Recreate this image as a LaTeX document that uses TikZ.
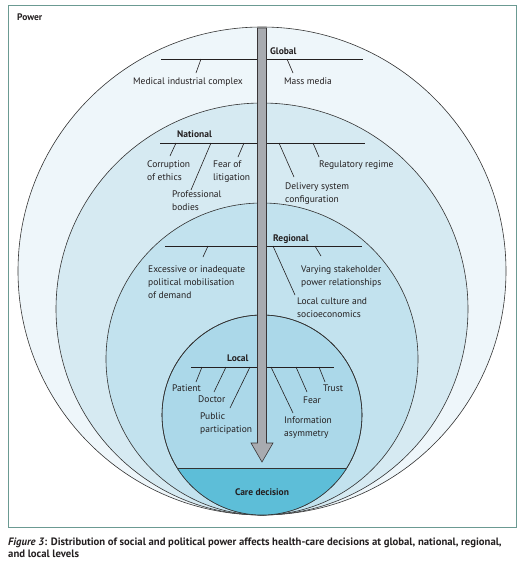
\documentclass[tikz,border=0pt]{standalone}
\usepackage{fontspec}
\setmainfont{PT Sans}
\usepackage{tikz}
\definecolor{txt}{HTML}{231F20}
\definecolor{ringa}{HTML}{EEF6FA}
\definecolor{ringb}{HTML}{D6EAF2}
\definecolor{ringc}{HTML}{C2E2EE}
\definecolor{ringd}{HTML}{ABD8E9}
\definecolor{caredec}{HTML}{5DBED8}
\definecolor{shaft}{HTML}{A8ABB0}
\definecolor{framecol}{HTML}{6B9A92}
\tikzset{
  lbl/.style={anchor=base west,inner sep=0pt,align=left,text=txt,font=\fontsize{9.5}{13}\selectfont},
  lvl/.style={lbl,font=\fontsize{9.5}{13}\selectfont\bfseries},
  ring/.style={draw=black!80,line width=0.6pt},
  bar/.style={draw=txt,line width=0.7pt},
  tickline/.style={draw=txt,line width=0.6pt}
}

\begin{document}
\begin{tikzpicture}[x=1pt,y=-1pt]
  \useasboundingbox (0,0) rectangle (522,563);
  \draw[framecol,line width=1pt] (8,5) rectangle (516,527);
  \node[lvl] (power) at (17,20) {Power};
  % rings, outer to inner
  \draw[ring,fill=ringa] (262,271) circle (244);
  \draw[ring,fill=ringb] (262,309) circle (206);
  \draw[ring,fill=ringc] (262,359) circle (156);
  \draw[ring,fill=ringd] (262,415) circle (100);
  \begin{scope}
    \clip (262,415) circle (100);
    \fill[caredec] (150,468) rectangle (380,530);
    \draw[ring] (150,468) -- (380,468);
  \end{scope}
  \draw[ring] (262,415) circle (100);
  % global (base = last line of a node)
  \node[lvl] (global) at (270,54) {Global};
  \coordinate (globalL) at (161,59);
  \coordinate (globalR) at (363,59);
  \draw[bar] (globalL) -- (globalR);
  \node[lbl] (mic) at (133,84) {Medical industrial complex};
  \node[lbl] (media) at (284,84) {Mass media};
  \foreach \i/\a/\b/\c in {1/201/196/73, 2/287/293/73} {
    \coordinate (g\i) at (\a,59);
    \coordinate (g\i e) at (\b,\c);
    \draw[tickline] (g\i) -- (g\i e);
  }
  % national
  \node[lvl] (national) at (177,137) {National};
  \coordinate (nationalL) at (160,143);
  \coordinate (nationalR) at (365,143);
  \draw[bar] (nationalL) -- (nationalR);
  \node[lbl] (ethics) at (147,180) {Corruption\\of ethics};
  \node[lbl] (litig) at (213,180) {Fear of\\litigation};
  \node[lbl] (bodies) at (172,210) {Professional\\bodies};
  \node[lbl] (delivery) at (285,202) {Delivery system\\configuration};
  \node[lbl] (regul) at (319,167) {Regulatory regime};
  \foreach \i/\a/\b/\c in {1/176/170/156, 2/211/191/190, 3/244/238/157, 4/279/294/177, 5/313/319/157} {
    \coordinate (n\i) at (\a,143);
    \coordinate (n\i e) at (\b,\c);
    \draw[tickline] (n\i) -- (n\i e);
  }
  % regional
  \node[lvl] (regional) at (273,241) {Regional};
  \coordinate (regionalL) at (165,246);
  \coordinate (regionalR) at (362,246);
  \draw[bar] (regionalL) -- (regionalR);
  \node[lbl] (demand) at (148,298) {Excessive or inadequate\\political mobilisation\\of demand};
  \node[lbl] (stake) at (301,285) {Varying stakeholder\\power relationships};
  \node[lbl] (culture) at (297,317) {Local culture and\\socioeconomics};
  \foreach \i/\a/\b/\c in {1/208/203/257, 2/273/295/295, 3/315/321/256} {
    \coordinate (r\i) at (\a,246);
    \coordinate (r\i e) at (\b,\c);
    \draw[tickline] (r\i) -- (r\i e);
  }
  % local
  \node[lvl] (local) at (227,361) {Local};
  \coordinate (localL) at (191,367);
  \coordinate (localR) at (334,367);
  \draw[bar] (localL) -- (localR);
  \node[lbl] (patient) at (172,391) {Patient};
  \node[lbl] (doctor) at (198,402) {Doctor};
  \node[lbl] (public) at (200,432) {Public\\participation};
  \node[lbl] (info) at (284,436) {Information\\asymmetry};
  \node[lbl] (fear) at (303,403) {Fear};
  \node[lbl] (trust) at (323,391) {Trust};
  \foreach \i/\a/\b/\c in {1/202/196/382, 2/226/214/392, 3/250/230/408, 4/271/293/413, 5/296/307/392, 6/319/325/382} {
    \coordinate (l\i) at (\a,367);
    \coordinate (l\i e) at (\b,\c);
    \draw[tickline] (l\i) -- (l\i e);
  }
  % power arrow
  \draw[draw=txt!90,fill=shaft,line width=0.6pt] (257.5,28) -- (257.5,443) -- (251,443) -- (262,462)
    -- (273,443) -- (266.5,443) -- (266.5,28) -- cycle;
  \node[lvl,anchor=base] (care) at (262,495) {Care decision};
  % caption
  \node[lbl,font=\fontsize{10.7}{12}\selectfont\bfseries] (caption) at (8,557)
    {\textit{Figure 3}: Distribution of social and political power affects health-care decisions at global, national, regional,\\and local levels};
\end{tikzpicture}
\end{document}
